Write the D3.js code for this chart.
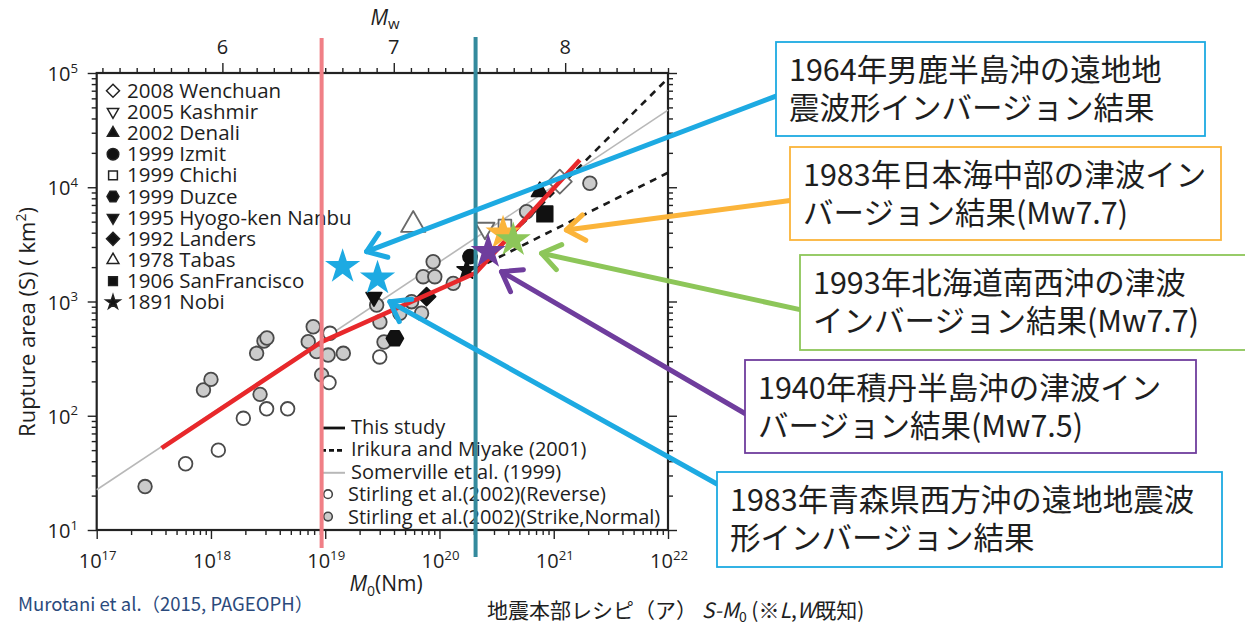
<!DOCTYPE html>
<html>
<head>
<meta charset="utf-8">
<script src="https://cdn.jsdelivr.net/npm/d3@7"></script>
<style>
  html, body { margin: 0; padding: 0; background: #fff; }
  svg { display: block; }
  text { font-family: "Open Sans", "Noto Sans", sans-serif; fill: #1e1e1e; }
  .jp, .jp text { font-family: "Noto Sans CJK JP", sans-serif; }
</style>
</head>
<body>
<svg id="chart" width="1245" height="627"></svg>
<script>
// ---------- tick labels ----------
const m0Exponents = [17, 18, 19, 20, 21, 22];
const areaExponents = [1, 2, 3, 4, 5];
const mwLabels = [6, 7, 8];

// ---------- Stirling et al. (2002) compilation: M0 (N·m), rupture area S (km²) ----------
const reverseM0 = [6.0e17, 1.16e18, 1.92e18, 3.07e18, 4.69e18, 1.08e19, 1.1e19, 3.0e19];
const reverseS  = [38, 50, 95, 115, 115, 195, 527, 327];

const strikeM0 = [2.65e17, 8.6e17, 1.0e18, 2.51e18, 2.69e18, 2.91e18, 3.09e18, 7.1e18,
                  7.85e18, 8.41e18, 9.3e18, 1.06e19, 1.44e19, 2.82e19, 3.01e19, 3.27e19,
                  4.5e19, 5.7e19, 6.97e19, 7.2e19, 8.8e19, 9.1e19, 1.32e20, 5.78e20, 2.07e21];
const strikeS  = [24, 168, 208, 352, 154, 451, 479, 445,
                  601, 364, 228, 340, 352, 931, 662, 442,
                  789, 996, 789, 1648, 2228, 1648, 1442, 6110, 10840];

// ---------- individual earthquakes ----------
const eventNames = ["2008 Wenchuan", "2005 Kashmir", "2002 Denali", "1999 Izmit", "1999 Chichi",
                    "1999 Duzce", "1995 Hyogo-ken Nanbu", "1992 Landers", "1978 Tabas",
                    "1906 SanFrancisco", "1891 Nobi"];
const eventM0 = [1.13e21, 2.5e20, 7.55e20, 1.85e20, 3.74e20, 4.07e19, 2.67e19, 7.71e19, 5.89e19, 8.36e20, 1.73e20];
const eventS  = [11190, 4375, 9140, 2466, 4580, 476, 1094, 1101, 4677, 5840, 1888];

// ---------- scaling relations ----------
const thisStudyM0 = [3.7e17, 9.3e18, 2.07e20, 1.69e21];
const thisStudyS  = [52, 443, 1775, 17330];
const somervilleM0 = [1e17, 1e22];
const somervilleS  = [22.5, 47400];
const irikuraM0 = [2.07e20, 1e22];
const irikuraS  = [1929, 13400];
const irikuraUpperM0 = [2.07e20, 1e22];
const irikuraUpperS  = [1863, 90000];

// stage boundaries of the three-stage scaling
const boundaryM0 = [9.3e18, 2.07e20];

// ---------- tsunami / teleseismic inversion results ----------
const inversionM0 = [1.42e19, 2.87e19, 3.6e20, 4.42e20, 2.67e20];
const inversionS  = [2018, 1596, 3953, 3452, 2730];
const arrowTipM0 = [2.3e19, 3.68e19, 1.29e21, 7.82e20, 3.49e20];
const arrowTipS  = [2730, 996, 4230, 2641, 1824];
const noteLines = [
  ["1964年男鹿半島沖の遠地地", "震波形インバージョン結果"],
  ["1983年青森県西方沖の遠地地震波", "形インバージョン結果"],
  ["1983年日本海中部の津波イン", "バージョン結果(Mw7.7)"],
  ["1993年北海道南西沖の津波", "インバージョン結果(Mw7.7)"],
  ["1940年積丹半島沖の津波イン", "バージョン結果(Mw7.5)"]
];

// ---------- styling ----------
const noteColors = ["#1DAAE2", "#1DAAE2", "#FBB43A", "#8DC659", "#6F3D9D"];
const noteBoxes = [   // left, top, right, bottom of each note frame
  [776, 42, 1205, 136],
  [717, 472, 1222, 567],
  [790, 147, 1221, 240],
  [800, 255, 1252, 350],
  [745, 360, 1196, 453]
];
const eventStyle = {
  "2008 Wenchuan":        { shape: "diamond",      filled: false, r: 12,  lr: 6.5 },
  "2005 Kashmir":         { shape: "triangleDown", filled: false, r: 11,  lr: 6.5 },
  "2002 Denali":          { shape: "triangle",     filled: true,  r: 9.5, lr: 6.5 },
  "1999 Izmit":           { shape: "circle",       filled: true,  r: 7,   lr: 5.8 },
  "1999 Chichi":          { shape: "square",       filled: false, r: 9,   lr: 6.2 },
  "1999 Duzce":           { shape: "hexagon",      filled: true,  r: 8.5, lr: 6 },
  "1995 Hyogo-ken Nanbu": { shape: "triangleDown", filled: true,  r: 9,   lr: 6.5 },
  "1992 Landers":         { shape: "diamond",      filled: true,  r: 9,   lr: 6.5 },
  "1978 Tabas":           { shape: "triangle",     filled: false, r: 14,  lr: 6.8 },
  "1906 SanFrancisco":    { shape: "square",       filled: true,  r: 11,  lr: 6.2 },
  "1891 Nobi":            { shape: "star",         filled: true,  r: 10,  lr: 7.5 }
};

const svg = d3.select("#chart");
const frame = { left: 96.7, right: 668, top: 73, bottom: 530 };

const x = d3.scaleLog().domain([1e17, 1e22]).range([frame.left, frame.right]);
const y = d3.scaleLog().domain([10, 1e5]).range([frame.bottom, frame.top]);
// moment magnitude: log10 M0 = 1.5 Mw + 9.1
const mwOf = m0 => (Math.log10(m0) - 9.1) / 1.5;
const mw = d3.scaleLinear().domain([mwOf(1e17), mwOf(1e22)]).range([frame.left, frame.right]);

function polygon(n, r, rot) {
  const pts = d3.range(n).map(i => {
    const a = rot + i * 2 * Math.PI / n;
    return [r * Math.sin(a), -r * Math.cos(a)];
  });
  return "M" + pts.map(p => p.join(",")).join("L") + "Z";
}
const shapes = {
  diamond: r => polygon(4, r, 0),
  triangle: r => polygon(3, r, 0),
  triangleDown: r => polygon(3, r, Math.PI),
  square: r => polygon(4, r, Math.PI / 4),
  hexagon: r => polygon(6, r, Math.PI / 6),
  circle: r => d3.symbol(d3.symbolCircle, Math.PI * r * r)(),
  star: r => d3.symbol(d3.symbolStar, r * r / 0.8908130915292852)()
};

// ---------- axes ----------
const axisColor = "#222";
function styleAxis(g, isMajor, majorLen) {
  g.select(".domain").remove();
  g.selectAll(".tick line").attr("stroke", axisColor).attr("stroke-width", 1.4);
  g.selectAll(".tick").filter(isMajor).select("line").each(function () {
    const l = d3.select(this);
    ["x2", "y2"].forEach(k => { const v = +l.attr(k); if (v) l.attr(k, Math.sign(v) * majorLen); });
  });
}
const isDecade = d => Math.abs(Math.log10(d) - Math.round(Math.log10(d))) < 1e-9;

svg.append("g").attr("transform", `translate(0,${frame.bottom})`)
  .call(d3.axisBottom(x).tickValues(x.ticks(20)).tickSize(5).tickSizeOuter(0).tickFormat(""))
  .call(g => styleAxis(g, isDecade, 9));
svg.append("g").attr("transform", `translate(${frame.left},0)`)
  .call(d3.axisLeft(y).tickValues(y.ticks(20)).tickSize(5).tickSizeOuter(0).tickFormat(""))
  .call(g => styleAxis(g, isDecade, 9));
svg.append("g").attr("transform", `translate(${frame.right},0)`)
  .call(d3.axisRight(y).tickValues(y.ticks(20)).tickSize(5).tickSizeOuter(0).tickFormat(""))
  .call(g => styleAxis(g, isDecade, 9));
const mwTicks = d3.range(53, 87).map(v => v / 10);
svg.append("g").attr("transform", `translate(0,${frame.top})`)
  .call(d3.axisTop(mw).tickValues(mwTicks).tickSize(5).tickSizeOuter(0).tickFormat(""))
  .call(g => styleAxis(g, d => Math.abs(d - Math.round(d)) < 1e-9, 10));

svg.append("rect")
  .attr("x", frame.left).attr("y", frame.top)
  .attr("width", frame.right - frame.left).attr("height", frame.bottom - frame.top)
  .attr("fill", "none").attr("stroke", axisColor).attr("stroke-width", 2.2);

function powerLabel(sel, exp, fs) {
  sel.append("tspan").text("10");
  sel.append("tspan").attr("dy", -fs * 0.42).attr("font-size", fs * 0.66).text(exp);
}
m0Exponents.forEach(e => {
  svg.append("text").attr("x", x(Math.pow(10, e)) + 1).attr("y", 568)
    .attr("text-anchor", "middle").attr("font-size", 20)
    .call(t => powerLabel(t, e, 20));
});
areaExponents.forEach(e => {
  svg.append("text").attr("x", 78).attr("y", y(Math.pow(10, e)) + 8)
    .attr("text-anchor", "end").attr("font-size", 20)
    .call(t => powerLabel(t, e, 20));
});
mwLabels.forEach(v => {
  svg.append("text").attr("x", mw(v)).attr("y", 54)
    .attr("text-anchor", "middle").attr("font-size", 20).text(v);
});

// axis titles
svg.append("text").attr("x", 386).attr("y", 591).attr("text-anchor", "middle").attr("font-size", 21)
  .call(t => {
    t.append("tspan").attr("font-style", "italic").text("M");
    t.append("tspan").attr("dy", 5).attr("font-size", 14).text("0");
    t.append("tspan").attr("dy", -5).text("(Nm)");
  });
svg.append("text").attr("x", 385).attr("y", 25).attr("text-anchor", "middle").attr("font-size", 21)
  .call(t => {
    t.append("tspan").attr("font-style", "italic").text("M");
    t.append("tspan").attr("dy", 4).attr("font-size", 15).text("w");
  });
svg.append("text").attr("transform", "translate(35,322) rotate(-90)")
  .attr("text-anchor", "middle").attr("font-size", 22)
  .call(t => {
    t.append("tspan").text("Rupture area (S) ( km");
    t.append("tspan").attr("dy", -9).attr("font-size", 14).text("2");
    t.append("tspan").attr("dy", 9).text(")");
  });

// ---------- scaling lines ----------
const line = d3.line().x(d => x(d[0])).y(d => y(d[1]));
svg.append("path").datum(d3.zip(somervilleM0, somervilleS)).attr("d", line)
  .attr("fill", "none").attr("stroke", "#b8b8b8").attr("stroke-width", 1.6);
svg.append("path").datum(d3.zip(irikuraM0, irikuraS)).attr("d", line)
  .attr("fill", "none").attr("stroke", "#1a1a1a").attr("stroke-width", 2.6).attr("stroke-dasharray", "7,6");
svg.append("path").datum(d3.zip(irikuraUpperM0, irikuraUpperS)).attr("d", line)
  .attr("fill", "none").attr("stroke", "#1a1a1a").attr("stroke-width", 2.6).attr("stroke-dasharray", "7,6");

// ---------- data points ----------
svg.append("g").selectAll("circle").data(d3.zip(strikeM0, strikeS)).join("circle")
  .attr("cx", d => x(d[0])).attr("cy", d => y(d[1])).attr("r", 6.8)
  .attr("fill", "#cbcbcb").attr("stroke", "#4a4a4a").attr("stroke-width", 1.8);
svg.append("g").selectAll("circle").data(d3.zip(reverseM0, reverseS)).join("circle")
  .attr("cx", d => x(d[0])).attr("cy", d => y(d[1])).attr("r", 6.8)
  .attr("fill", "#fff").attr("stroke", "#4a4a4a").attr("stroke-width", 1.8);

svg.append("g").selectAll("path").data(d3.zip(eventNames, eventM0, eventS)).join("path")
  .attr("transform", d => `translate(${x(d[1])},${y(d[2])})`)
  .attr("d", d => shapes[eventStyle[d[0]].shape](eventStyle[d[0]].r))
  .attr("fill", d => eventStyle[d[0]].filled ? "#111" : "#fff")
  .attr("stroke", d => eventStyle[d[0]].filled ? "#111" : "#6a6a6a")
  .attr("stroke-width", 1.8).attr("stroke-linejoin", "round");

svg.append("path").datum(d3.zip(thisStudyM0, thisStudyS)).attr("d", line)
  .attr("fill", "none").attr("stroke", "#E8282B").attr("stroke-width", 4.5)
  .attr("stroke-linejoin", "round");

// ---------- legends ----------
const legend1 = svg.append("g");
eventNames.forEach((name, i) => {
  const cy = 90.7 + i * 21.16;
  const st = eventStyle[name];
  legend1.append("path").attr("transform", `translate(113,${cy})`)
    .attr("d", shapes[st.shape](st.lr))
    .attr("fill", st.filled ? "#111" : "#fff").attr("stroke", "#222").attr("stroke-width", 1.5);
  legend1.append("text").attr("x", 127).attr("y", cy + 7).attr("font-size", 20.5).text(name);
});

const legend2 = svg.append("g");
const legend2Rows = [
  { label: "This study", kind: "solid" },
  { label: "Irikura and Miyake (2001)", kind: "dashed" },
  { label: "Somerville et al. (1999)", kind: "grey" },
  { label: "Stirling et al.(2002)(Reverse)", kind: "open" },
  { label: "Stirling et al.(2002)(Strike,Normal)", kind: "filled" }
];
legend2Rows.forEach((row, i) => {
  const cy = 427 + i * 22.4;
  if (row.kind === "open" || row.kind === "filled") {
    legend2.append("circle").attr("cx", 328).attr("cy", cy).attr("r", 4.3)
      .attr("fill", row.kind === "open" ? "#fff" : "#cbcbcb").attr("stroke", "#444").attr("stroke-width", 1.6);
    legend2.append("text").attr("x", 348).attr("y", cy + 7).attr("font-size", 20).text(row.label);
  } else {
    legend2.append("line").attr("x1", 321).attr("x2", 345).attr("y1", cy + 1).attr("y2", cy + 1)
      .attr("stroke", row.kind === "grey" ? "#b8b8b8" : "#111")
      .attr("stroke-width", row.kind === "grey" ? 2 : 2.8)
      .attr("stroke-dasharray", row.kind === "dashed" ? "5,3" : null);
    legend2.append("text").attr("x", 351).attr("y", cy + 7).attr("font-size", 20).text(row.label);
  }
});

// ---------- stage boundaries ----------
const boundaryColors = ["#F07F86", "#348A9D"];
const boundaryExtent = [[38, 548], [37, 557]];
boundaryM0.forEach((m, i) => {
  svg.append("line").attr("x1", x(m)).attr("x2", x(m))
    .attr("y1", boundaryExtent[i][0]).attr("y2", boundaryExtent[i][1])
    .attr("stroke", boundaryColors[i]).attr("stroke-width", 4);
});

// ---------- inversion results ----------
svg.append("g").selectAll("path").data(d3.zip(inversionM0, inversionS, noteColors)).join("path")
  .attr("transform", d => `translate(${x(d[0])},${y(d[1])})`)
  .attr("d", shapes.star(18.5))
  .attr("fill", d => d[2]);

// ---------- notes with arrows ----------
const notes = svg.append("g").attr("class", "jp");
noteLines.forEach((lines, i) => {
  const [l, t, r, b] = noteBoxes[i];
  const color = noteColors[i];
  const tail = [l, i === 1 ? 484 : t + (b - t) * 0.575];
  const tip = [x(arrowTipM0[i]), y(arrowTipS[i])];
  const ang = Math.atan2(tail[1] - tip[1], tail[0] - tip[0]);
  const arm = 22, spread = 0.62;
  const a1 = [tip[0] + arm * Math.cos(ang + spread), tip[1] + arm * Math.sin(ang + spread)];
  const a2 = [tip[0] + arm * Math.cos(ang - spread), tip[1] + arm * Math.sin(ang - spread)];
  notes.append("line").attr("x1", tail[0]).attr("y1", tail[1]).attr("x2", tip[0]).attr("y2", tip[1])
    .attr("stroke", color).attr("stroke-width", 5).attr("stroke-linecap", "round");
  notes.append("path").attr("d", `M${a1}L${tip}L${a2}`)
    .attr("fill", "none").attr("stroke", color).attr("stroke-width", 5)
    .attr("stroke-linecap", "round").attr("stroke-linejoin", "round");
  notes.append("rect").attr("x", l).attr("y", t).attr("width", r - l).attr("height", b - t)
    .attr("fill", "#fff").attr("stroke", color).attr("stroke-width", 1.8);
  lines.forEach((s, k) => {
    notes.append("text").attr("x", l + 13).attr("y", t + 39 + k * 38)
      .attr("font-size", 30.5).attr("fill", "#222").text(s);
  });
});

// ---------- footers ----------
svg.append("text").attr("class", "jp").attr("x", 18).attr("y", 611).attr("font-size", 18.5)
  .style("fill", "#2B4A7C").text("Murotani et al.（2015, PAGEOPH）");
svg.append("text").attr("class", "jp").attr("x", 487).attr("y", 618).attr("font-size", 21)
  .call(t => {
    t.append("tspan").text("地震本部レシピ（ア） ");
    t.append("tspan").attr("font-style", "italic").text("S-M");
    t.append("tspan").attr("dy", 4).attr("font-size", 14).text("0");
    t.append("tspan").attr("dy", -4).text(" (※");
    t.append("tspan").attr("font-style", "italic").text("L");
    t.append("tspan").text(",");
    t.append("tspan").attr("font-style", "italic").text("W");
    t.append("tspan").text("既知)");
  });
</script>
</body>
</html>
